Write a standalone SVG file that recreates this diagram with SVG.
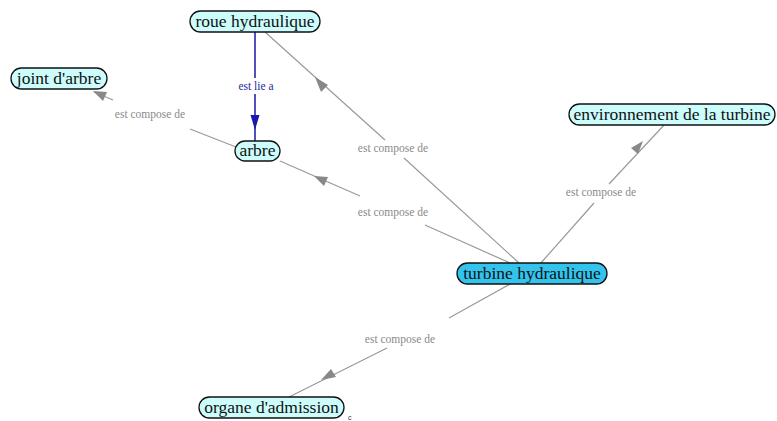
<svg xmlns="http://www.w3.org/2000/svg" width="777" height="421" viewBox="0 0 777 421">
<style>
.n rect{fill:#ccfcfc;stroke:#111;stroke-width:1.3}
.n text{font-family:"Liberation Serif","Times New Roman",serif;font-size:17.5px;fill:#111;text-anchor:middle}
#turbine rect{fill:#33c4ee}
.e{stroke:#9a9a9a;stroke-width:1.2;fill:none}
.ah{fill:#888}
.lb{font-family:"Liberation Serif",serif;font-size:11.5px;fill:#8a8a8a;text-anchor:middle}
.bl{stroke:#1a1aa8;stroke-width:1.5;fill:none}
</style>
<rect width="777" height="421" fill="#fff"/>
<g id="connectors">
  <!-- turbine -> roue -->
  <path class="e" d="M519,263 L404,158 M385,140 L265,32"/>
  <polygon class="ah" points="315,77 328,85 321,92"/>
  <text class="lb" x="393" y="152">est compose de</text>
  <!-- turbine -> arbre -->
  <path class="e" d="M510,263 L425,225 M360,196 L280,161"/>
  <polygon class="ah" points="314,176 328,177 324,186"/>
  <text class="lb" x="393" y="216">est compose de</text>
  <!-- arbre -> joint -->
  <path class="e" d="M236,147 L190,129 M113,100 L94,92"/>
  <polygon class="ah" points="93,91 107,92 103,101"/>
  <text class="lb" x="150" y="118">est compose de</text>
  <!-- turbine -> environnement -->
  <path class="e" d="M540,264 L594,203 M609,184 L665,124"/>
  <polygon class="ah" points="643,141 638,154 631,148"/>
  <text class="lb" x="601" y="196">est compose de</text>
  <!-- turbine -> organe -->
  <path class="e" d="M510,284 L449,318 M387,348 L287,398"/>
  <polygon class="ah" points="321,380 331,369 336,377"/>
  <text class="lb" x="400" y="343">est compose de</text>
  <!-- roue -> arbre -->
  <path class="bl" d="M255,32 L255,78 M255,94 L255,141"/>
  <polygon fill="#1a1aa8" points="255,130 250.5,115 259.5,115"/>
  <text class="lb" x="256" y="90" style="fill:#2a2aa0">est lie a</text>
</g>
<g id="roue" class="n" font-family="Liberation Serif, serif"><rect x="190" y="11" width="130" height="21" rx="10.5"/><text x="255" y="27">roue hydraulique</text></g>
<g id="joint" class="n" font-family="Liberation Serif, serif"><rect x="11" y="68" width="96" height="21" rx="10.5"/><text x="59" y="84">joint d'arbre</text></g>
<g id="arbre" class="n" font-family="Liberation Serif, serif"><rect x="235" y="141" width="45" height="20" rx="10"/><text x="257.5" y="156">arbre</text></g>
<g id="environnement" class="n" font-family="Liberation Serif, serif"><rect x="569" y="104" width="206" height="21" rx="10.5"/><text x="672" y="120">environnement de la turbine</text></g>
<g id="turbine" class="n" font-family="Liberation Serif, serif"><rect x="457" y="263" width="150" height="21" rx="10.5"/><text x="532" y="279">turbine hydraulique</text></g>
<g id="organe" class="n" font-family="Liberation Serif, serif"><rect x="199" y="397" width="145" height="21" rx="10.5"/><text x="271.5" y="413">organe d'admission</text></g>
<text x="348" y="420" style="font-family:'Liberation Sans',sans-serif;font-size:7px;fill:#333">c</text>
</svg>
